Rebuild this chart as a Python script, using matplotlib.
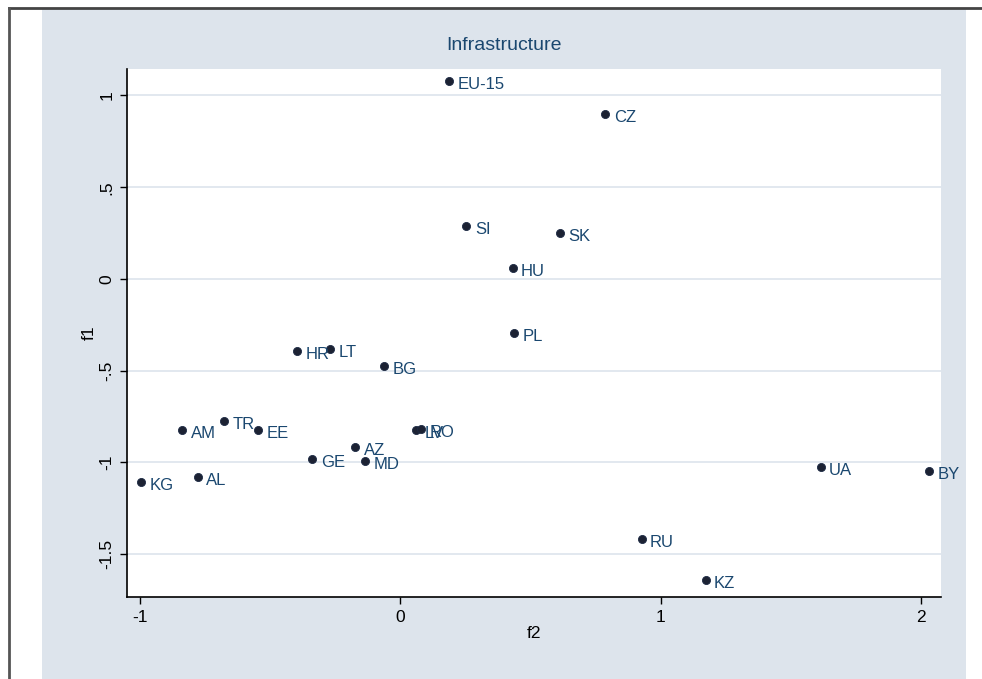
import matplotlib.pyplot as plt
from matplotlib.patches import Rectangle
from matplotlib.lines import Line2D

# country codes and factor scores
codes = ["EU-15", "CZ", "SI", "SK", "HU", "PL", "HR", "LT", "BG", "TR", "AM", "EE",
         "LV", "RO", "AZ", "GE", "MD", "KG", "AL", "UA", "BY", "RU", "KZ"]
f2 = [0.188, 0.788, 0.254, 0.615, 0.431, 0.438, -0.396, -0.269, -0.062, -0.677, -0.838, -0.546,
      0.062, 0.081, -0.173, -0.338, -0.135, -0.996, -0.777, 1.615, 2.031, 0.927, 1.173]
f1 = [1.079, 0.899, 0.289, 0.251, 0.060, -0.294, -0.392, -0.381, -0.474, -0.774, -0.823, -0.823,
      -0.823, -0.817, -0.916, -0.981, -0.992, -1.106, -1.079, -1.025, -1.046, -1.417, -1.640]

xticks = [-1, 0, 1, 2]
yticks = [1, 0.5, 0, -0.5, -1, -1.5]
yticklabels = ["1", ".5", "0", "-.5", "-1", "-1.5"]

W, H = 982, 679
bg = "#dde4ec"
lab = "#1a476f"

fig = plt.figure(figsize=(9.82, 6.79), dpi=100)
fig.patch.set_facecolor("white")
# bluish-gray graph region and the thin frame lines
fig.patches.append(Rectangle((42 / W, 0), (966 - 42) / W, 1 - 9 / H,
                             transform=fig.transFigure, facecolor=bg, edgecolor="none", zorder=-5))
fig.lines.append(Line2D([8.5 / W, 1], [1 - 8 / H, 1 - 8 / H], transform=fig.transFigure,
                        color="#444444", lw=2, zorder=-4))
fig.lines.append(Line2D([8.5 / W, 8.5 / W], [0, 1 - 8 / H], transform=fig.transFigure,
                        color="#555555", lw=2, zorder=-4))

ax = fig.add_axes([127 / W, 1 - 597 / H, (941 - 127) / W, (597 - 69) / H])
ax.set_facecolor("white")
ax.set_xlim(-1.05, 2.077)
ax.set_ylim(-1.733, 1.144)

for y in yticks:
    ax.axhline(y, color=bg, lw=1.2, zorder=1)

ax.scatter(f2, f1, s=34, color="#1c2233", edgecolors="#1c2a44", linewidths=0.6, zorder=3)
for c, x, y in zip(codes, f2, f1):
    ax.annotate(c, (x, y), xytext=(6, -2.5), textcoords="offset points", va="center", ha="left",
                color=lab, fontsize=12, family="Liberation Sans", zorder=4, annotation_clip=False,
                bbox=dict(boxstyle="square,pad=0", fc="none", ec="none"))

for s in ["top", "right"]:
    ax.spines[s].set_visible(False)
for s in ["left", "bottom"]:
    ax.spines[s].set_color("black")
    ax.spines[s].set_linewidth(1.2)

ax.set_xticks(xticks)
ax.set_xticklabels([str(t) for t in xticks], family="Liberation Sans", fontsize=12.5)
ax.set_yticks(yticks)
ax.set_yticklabels(yticklabels, rotation=90, va="center", family="Liberation Sans", fontsize=12.5)
ax.tick_params(direction="out", length=5, width=1, color="black", pad=4)

ax.set_xlabel("f2", family="Liberation Sans", fontsize=12.5, labelpad=1)
ax.set_ylabel("f1", family="Liberation Sans", fontsize=12.5, labelpad=2)

fig.text(504 / W, 1 - 45 / H, "Infrastructure", ha="center", va="center", color=lab,
         fontsize=14, family="Liberation Sans")

fig.savefig("out.png", dpi=100)
